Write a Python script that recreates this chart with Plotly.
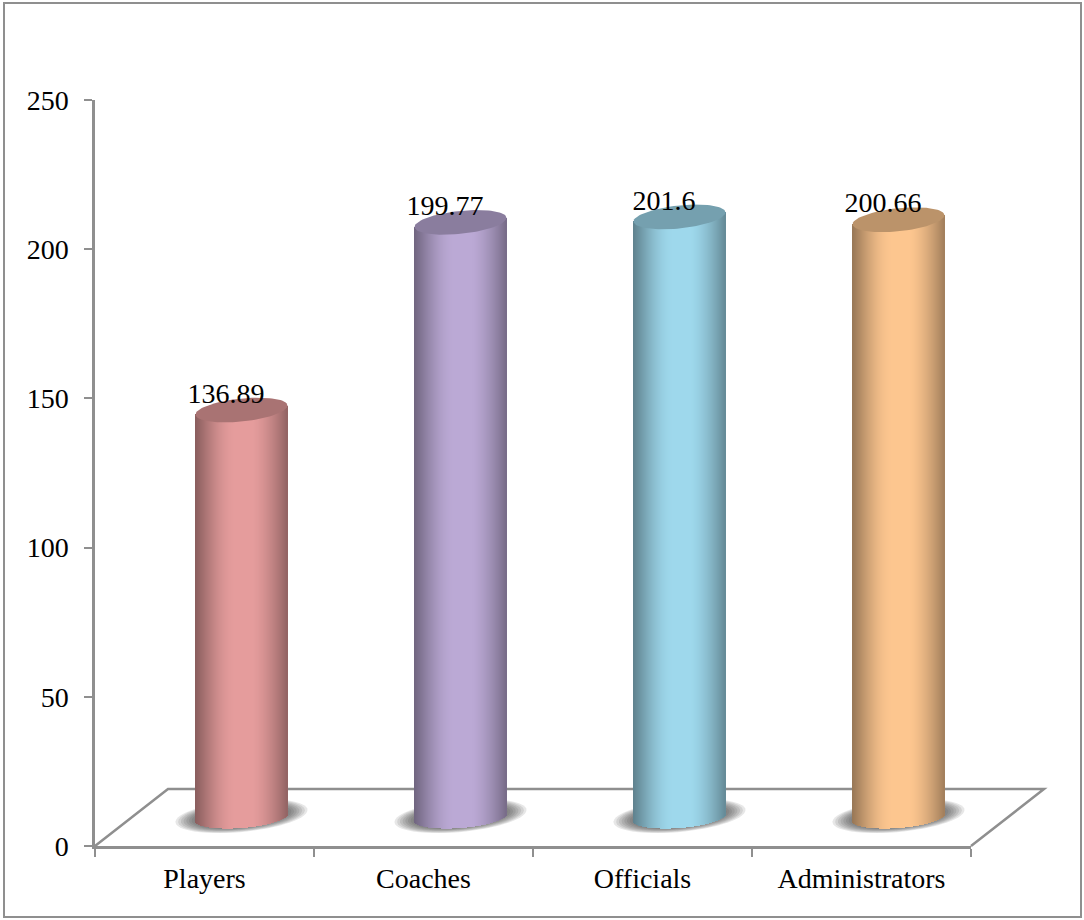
import numpy as np
import plotly.graph_objects as go

categories = ["Players", "Coaches", "Officials", "Administrators"]
values = [136.89, 199.77, 201.6, 200.66]
value_labels = ["136.89", "199.77", "201.6", "200.66"]
base_colors = [(229, 156, 156), (187, 169, 213), (158, 216, 236), (253, 198, 143)]
y_ticks = [0, 50, 100, 150, 200, 250]

W, H = 1084, 920
L, R, T, B = 95, 971, 100, 846
PX_X = (R - L) / 4
PX_Y = (B - T) / 250
GRAY = "#8f8f8f"
FONT = "Liberation Serif"

DEPTH_X, DEPTH_Y = 73, 57
OFF_X = (DEPTH_X / 2 + 0.5) / PX_X
OFF_Y = DEPTH_Y / 2 / PX_Y
HALF_W = 46 / PX_X
LABEL_DX = -15.5


def shade(t):
    """Horizontal light profile across a cylinder, t in [-1, 1]."""
    u = (t + 1) / 2
    if u < 0.5:
        return 0.60 + 0.40 * np.sin(min(u / 0.45, 1) * np.pi / 2) ** 1.1
    if u < 0.62:
        return 1.0
    return 1.0 - 0.36 * ((u - 0.62) / 0.38) ** 1.5


def rgb(c, k):
    return "rgb(%d,%d,%d)" % tuple(round(v * k) for v in c)


fig = go.Figure()
shapes = []

# frame
shapes.append(dict(type="rect", xref="paper", yref="paper",
                   x0=(4 - L) / (R - L), x1=(1081 - L) / (R - L),
                   y0=(B - 917) / (B - T), y1=(B - 3) / (B - T),
                   line=dict(color=GRAY, width=2), layer="below"))
# floor of the 3D box
fx, fy = DEPTH_X / (R - L), DEPTH_Y / (B - T)
floor_path = f"M 0 0 L {fx} {fy} L {1 + fx} {fy} L 1 0"
shapes.append(dict(type="path", xref="paper", yref="paper", path=floor_path,
                   line=dict(color=GRAY, width=2.5), layer="below"))

for i, (v, c) in enumerate(zip(values, base_colors)):
    cx = i + OFF_X
    # soft floor shadow
    theta = np.linspace(0, 2 * np.pi, 60)
    for s in np.linspace(1.0, 0.55, 12):
        xs = cx + s * 66 / PX_X * np.cos(theta)
        ys = OFF_Y + 0.5 + (s * 16 * np.sin(theta) + s * 6 * np.cos(theta)) / PX_Y
        d = "M " + " L ".join(f"{a:.4f} {b:.4f}" for a, b in zip(xs, ys)) + " Z"
        shapes.append(dict(type="path", xref="x", yref="y", path=d,
                           fillcolor="rgba(60,60,60,0.12)", line=dict(width=0), layer="below"))

    # cylinder body as many thin bars
    n = 92
    ts = (np.arange(n) + 0.5) / n * 2 - 1
    xs = cx + ts * HALF_W
    circ = np.sqrt(1 - ts ** 2)
    bottom = OFF_Y + (3.5 * ts - 10.5 * circ) / PX_Y
    top = v + OFF_Y + (4.5 * ts - 1.0) / PX_Y
    fig.add_trace(go.Bar(
        x=xs, y=top - bottom, base=bottom,
        width=1.4 / PX_X,
        marker=dict(color=[rgb(c, shade(t)) for t in ts], line=dict(width=0)),
        showlegend=False, hoverinfo="skip", name=categories[i],
    ))
    # top cap
    th = np.linspace(0, 2 * np.pi, 90)
    capx = cx + HALF_W * np.cos(th)
    capy = v + OFF_Y + (-1.0 + 4.5 * np.cos(th) + 11.5 * np.sin(th)) / PX_Y
    fig.add_trace(go.Scatter(
        x=capx, y=capy, mode="lines", fill="toself",
        fillcolor=rgb(c, 0.74), line=dict(width=0, color=rgb(c, 0.74)),
        showlegend=False, hoverinfo="skip", cliponaxis=False,
    ))

# value labels
fig.add_trace(go.Scatter(
    x=[i + OFF_X + LABEL_DX / PX_X for i in range(4)],
    y=[v + 14 for v in values],
    mode="text", text=value_labels, textposition="middle center",
    textfont=dict(family=FONT, size=28, color="black"),
    showlegend=False, hoverinfo="skip", cliponaxis=False,
))

fig.update_layout(
    width=W, height=H,
    margin=dict(l=L, r=W - R, t=T, b=H - B, pad=0),
    paper_bgcolor="white", plot_bgcolor="rgba(0,0,0,0)",
    barmode="overlay", bargap=0,
    shapes=shapes,
    font=dict(family=FONT, size=28, color="black"),
    xaxis=dict(
        range=[-0.5, 3.5], tickmode="array", tickvals=list(range(4)), ticktext=categories,
        showgrid=False, zeroline=False, showline=True, linecolor=GRAY, linewidth=2.5,
        ticks="outside", ticklen=6, tickcolor="rgba(0,0,0,0)",
        minor=dict(tickmode="array", tickvals=[-0.5, 0.5, 1.5, 2.5, 3.5], ticks="outside",
                   ticklen=8, tickwidth=2, tickcolor=GRAY, showgrid=False),
    ),
    yaxis=dict(
        range=[0, 250], tickmode="array", tickvals=y_ticks,
        showgrid=False, zeroline=False, showline=True, linecolor=GRAY, linewidth=2.5,
        ticks="outside", ticklen=8, tickwidth=2, tickcolor=GRAY, ticklabelstandoff=10,
    ),
)

fig.write_html("out.html", config=dict(displayModeBar=False),
               post_script="document.body.style.margin='0';document.documentElement.style.overflow='hidden';")
